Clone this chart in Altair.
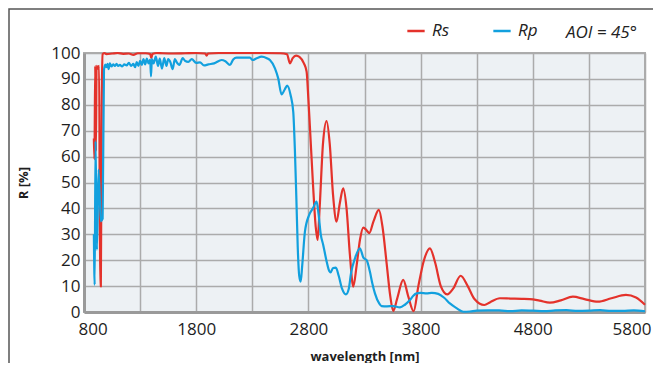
import altair as alt
import pandas as pd

# Rs (red) digitised
wl_rs = [888, 893, 900, 906, 912, 925, 935, 943, 950, 958, 966, 980, 1000, 1050, 1100, 1150, 1200,
         1240, 1280, 1350, 1390, 1400, 1410, 1450, 1500, 1600, 1700, 1800, 1880, 1893, 1905, 2000,
         2200, 2400, 2550, 2610, 2635, 2660, 2690, 2720, 2760, 2784, 2800, 2814, 2840, 2865, 2882,
         2900, 2930, 2962, 2990, 3020, 3051, 3080, 3110, 3140, 3170, 3200, 3230, 3260, 3289, 3320,
         3342, 3380, 3428, 3460, 3497, 3530, 3556, 3590, 3645, 3690, 3738, 3780, 3830, 3883, 3930,
         3980, 4037, 4090, 4157, 4220, 4280, 4368, 4420, 4506, 4600, 4700, 4774, 4860, 4952, 5050,
         5157, 5260, 5380, 5500, 5630, 5720, 5800]
r_rs = [67, 59, 95, 62, 95, 94, 95, 10, 10, 80, 99.5, 100, 99.6, 99.8, 100, 99.7, 99.8,
        99.3, 99.9, 99.9, 99.6, 98.0, 99.6, 100, 99.9, 99.8, 99.9, 100, 99.8, 99.0, 99.8, 100,
        100, 100, 99.9, 99.5, 96.0, 98.0, 99.0, 98.5, 96.0, 92.8, 82, 71, 50, 33, 27.8,
        40, 65, 73.7, 65, 45, 34.9, 42, 47.7, 40, 22, 9.8, 18, 28, 32.6, 31.5,
        30.4, 35, 39.4, 33, 18.9, 6, 0.4, 5, 12.4, 6, 0.3, 10, 20, 24.6, 19,
        10, 6.8, 9, 14, 10, 5, 2.7, 3.8, 5.3, 5.2, 5.1, 5.0, 4.4, 3.6, 4.5,
        5.9, 5.0, 4.0, 5.3, 6.6, 5.6, 2.8]

# Rp (blue) digitised
wl_rp = [888, 895, 903, 915, 930, 950, 966, 978, 990, 1000, 1010, 1020, 1030, 1045, 1060, 1075, 1090,
         1105, 1120, 1140, 1160, 1180, 1200, 1220, 1240, 1255, 1270, 1285, 1300, 1315, 1330, 1345,
         1360, 1375, 1390, 1397, 1405, 1420, 1440, 1460, 1475, 1495, 1515, 1535, 1550, 1570, 1590,
         1610, 1630, 1650, 1680, 1700, 1730, 1760, 1800, 1834, 1870, 1908, 1960, 2027, 2060, 2101,
         2130, 2160, 2279, 2303, 2340, 2383, 2430, 2457, 2502, 2531, 2561, 2590, 2611, 2641, 2665,
         2680, 2692, 2705, 2718, 2731, 2745, 2769, 2807, 2840, 2873, 2890, 2910, 2932, 2960, 2980,
         2998, 3020, 3045, 3070, 3100, 3134, 3160, 3180, 3215, 3259, 3290, 3319, 3348, 3370, 3393,
         3431, 3452, 3500, 3556, 3616, 3660, 3705, 3735, 3764, 3800, 3853, 3900, 3957, 4010, 4061,
         4120, 4180, 4240, 4299, 4400, 4500, 4600, 4700, 4800, 4900, 5000, 5100, 5200, 5300, 5400,
         5500, 5600, 5700, 5800]
r_rp = [30, 10.5, 66, 24, 55, 35, 36, 93.4, 95.5, 94.5, 95.8, 93.8, 96.0, 94.8, 95.6, 95.0, 95.8,
        95.0, 95.4, 94.8, 95.6, 95.2, 96.2, 95.0, 95.8, 94.5, 96.5, 95.0, 97.0, 95.4, 97.6, 95.6,
        97.8, 96.0, 97.5, 91.0, 97.6, 96.0, 98.6, 95.0, 97.8, 94.0, 98.0, 95.0, 97.6, 96.4, 93.8,
        97.6, 96.2, 95.4, 98.0, 97.0, 96.6, 97.6, 96.2, 96.4, 95.2, 95.6, 96.0, 97.3, 96.8, 95.4,
        97.5, 98.2, 98.2, 97.3, 98.0, 98.6, 98.0, 97.3, 94.1, 90.2, 84, 86, 87.4, 83.8, 77.3,
        62, 45, 25, 14, 11.7, 18, 31, 37.5, 40, 42.6, 38, 30, 25.9, 20, 16.5,
        15.3, 17, 17.1, 14, 9, 6.8, 9, 15, 20.7, 24.6, 21, 20, 15.6, 11, 7.2,
        3.3, 2.3, 2.2, 2.3, 1.8, 2.8, 4.6, 6.3, 7.2, 7.4, 7.2, 7.4, 7.0, 5.5, 3.3,
        1.5, 0.1, 0.2, 0.5, 0.6, 0.6, 0.3, 0.6, 0.5, 0.3, 0.6, 0.7, 0.4, 0.5, 0.7,
        0.4, 0.4, 0.6, 0.3]

series_names = ["Rs", "Rp"]
series_colors = ["#E4322B", "#12A0DE"]
x_grid_values = list(range(800, 5801, 500))
y_grid_values = list(range(0, 101, 10))

df = pd.concat([
    pd.DataFrame({"wl": wl_rs, "R": r_rs, "s": "Rs", "o": 0}),
    pd.DataFrame({"wl": wl_rp, "R": r_rp, "s": "Rp", "o": 1}),
])

FONT = "Open Sans"

lines = alt.Chart(df).mark_line(strokeWidth=2.2, interpolate="monotone").encode(
    x=alt.X("wl:Q",
            scale=alt.Scale(domain=[800, 5800], nice=False, zero=False),
            axis=alt.Axis(values=x_grid_values, format="d",
                          labelExpr="(datum.value - 800) % 1000 == 0 ? datum.label : ''",
                          title="wavelength [nm]", labelFlush=True, labelFlushOffset=6,
                          labelPadding=9, titlePadding=13)),
    y=alt.Y("R:Q",
            scale=alt.Scale(domain=[0, 100], nice=False),
            axis=alt.Axis(values=y_grid_values, format="d", title="R [%]",
                          labelPadding=4, titlePadding=20)),
    color=alt.Color("s:N", scale=alt.Scale(domain=series_names, range=series_colors),
                    legend=alt.Legend(orient="none", legendX=322, legendY=-32,
                                      direction="horizontal", title=None,
                                      symbolType="stroke", symbolStrokeWidth=2.5,
                                      symbolSize=300, labelFontSize=17,
                                      labelFontStyle="italic", labelFont=FONT,
                                      labelColor="#222222", columnPadding=38,
                                      padding=0, labelOffset=6)),
    order="o:Q",
    detail="s:N",
)

aoi = alt.Chart(pd.DataFrame({"t": ["AOI = 45°"]})).mark_text(
    align="left", baseline="middle", fontSize=17, fontStyle="italic",
    font=FONT, color="#222222"
).encode(text="t:N", x=alt.value(482), y=alt.value(-20))

frame = alt.Chart(pd.DataFrame({"a": [0]})).mark_rect(
    filled=False, stroke="#555555", strokeWidth=1.5
).encode(x=alt.value(-75), x2=alt.value(600), y=alt.value(-44), y2=alt.value(340))

chart = alt.layer(frame, lines, aoi).properties(
    width=561, height=259,
    padding={"left": 76, "top": 45, "right": 8, "bottom": 51},
    autosize=alt.AutoSizeParams(type="none"),
).configure_view(
    fill="#EDF1F4", stroke="#ADADAD", strokeWidth=2
).configure_axis(
    grid=True, gridColor="#ABABAB", gridWidth=1.5, ticks=False,
    domainColor="#9A9A9A", domainWidth=3,
    labelFont=FONT, labelFontSize=17, labelColor="#1E1E1E",
    titleFont=FONT, titleFontSize=13, titleFontWeight="bold", titleColor="#1E1E1E",
)

chart.save("out.html", embed_options={"renderer": "svg", "actions": False})
